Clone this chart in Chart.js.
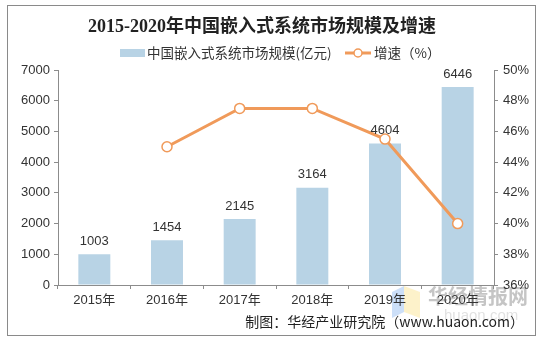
<!DOCTYPE html>
<html>
<head>
<meta charset="utf-8">
<script src="https://cdn.jsdelivr.net/npm/chart.js@4"></script>
<style>
  html, body { margin: 0; padding: 0; background: #fff; }
  #wrap { width: 544px; height: 343px; position: relative; }
</style>
</head>
<body>
<div id="wrap"><canvas id="chart" width="544" height="343"></canvas></div>
<script>
// ---- Data ----
const years = ["2015年", "2016年", "2017年", "2018年", "2019年", "2020年"];
const marketSize = [1003, 1454, 2145, 3164, 4604, 6446];
const growthRate = [null, 45.0, 47.5, 47.5, 45.5, 40.0];

const TITLE = "2015-2020年中国嵌入式系统市场规模及增速";
const LEGEND_BAR = "中国嵌入式系统市场规模(亿元)";
const LEGEND_LINE = "增速（%）";
const SOURCE = "制图：华经产业研究院（www.huaon.com）";

// ---- Styles ----
const BAR_COLOR = "#B8D3E5";
const LINE_COLOR = "#F09A5A";
const AXIS_COLOR = "#8c8c8c";
const TEXT_COLOR = "#333";
const FONT = "'Liberation Sans', Arial, 'Noto Sans CJK SC', sans-serif";
const CJK = "'Noto Sans CJK SC', 'Liberation Sans', sans-serif";

// frame, title, legend, labels, source, watermark
const decor = {
	id: "decor",
	beforeDraw(chart) {
		const ctx = chart.ctx;
		ctx.save();
		ctx.fillStyle = "#fff";
		ctx.fillRect(0, 0, chart.width, chart.height);
		ctx.strokeStyle = "#8a8a8a";
		ctx.lineWidth = 1;
		ctx.strokeRect(7.5, 5.5, 528, 330);

		// watermark
		ctx.globalAlpha = 0.45;
		ctx.fillStyle = "#8fb8f0";
		ctx.beginPath();
		ctx.moveTo(392, 292); ctx.lineTo(404, 286); ctx.lineTo(404, 312); ctx.lineTo(392, 318);
		ctx.closePath(); ctx.fill();
		ctx.fillStyle = "#fbe38a";
		ctx.beginPath();
		ctx.moveTo(404, 286); ctx.lineTo(420, 292); ctx.lineTo(420, 318); ctx.lineTo(404, 312);
		ctx.closePath(); ctx.fill();
		ctx.globalAlpha = 1;
		ctx.fillStyle = "rgba(150,150,150,0.55)";
		ctx.font = "bold 20px " + CJK;
		ctx.textAlign = "left";
		ctx.textBaseline = "middle";
		ctx.fillText("华经情报网", 428, 296);
		ctx.fillStyle = "rgba(180,180,180,0.4)";
		ctx.font = "15px " + FONT;
		ctx.fillText("huaon.com", 444, 316);
		ctx.restore();
	},
	afterDraw(chart) {
		const ctx = chart.ctx;
		ctx.save();
		ctx.textBaseline = "middle";

		// title
		ctx.fillStyle = "#222";
		ctx.textAlign = "center";
		ctx.font = "bold 18px 'Liberation Serif', 'Noto Sans CJK SC', serif";
		ctx.fillText(TITLE, 262, 27);

		// legend
		ctx.font = "13.5px " + CJK;
		ctx.textAlign = "left";
		ctx.fillStyle = BAR_COLOR;
		ctx.fillRect(120, 49, 25, 8);
		ctx.fillStyle = TEXT_COLOR;
		ctx.fillText(LEGEND_BAR, 147, 53);
		ctx.strokeStyle = LINE_COLOR;
		ctx.lineWidth = 3;
		ctx.beginPath();
		ctx.moveTo(345, 53); ctx.lineTo(371, 53); ctx.stroke();
		ctx.fillStyle = "#fff";
		ctx.lineWidth = 1.5;
		ctx.beginPath();
		ctx.arc(358, 53, 4, 0, Math.PI * 2);
		ctx.fill(); ctx.stroke();
		ctx.fillStyle = TEXT_COLOR;
		ctx.fillText(LEGEND_LINE, 374, 53);

		// bar value labels (bar dataset is index 1)
		const meta = chart.getDatasetMeta(1);
		ctx.font = "13px " + FONT;
		ctx.textAlign = "center";
		ctx.fillStyle = TEXT_COLOR;
		meta.data.forEach((bar, i) => {
			ctx.fillText(String(marketSize[i]), bar.x, bar.y - 13);
		});

		// source
		ctx.font = "14px " + CJK;
		ctx.textAlign = "right";
		ctx.fillStyle = "#222";
		ctx.fillText(SOURCE, 524, 322);
		ctx.restore();
	},
};

new Chart(document.getElementById("chart"), {
	data: {
		labels: years,
		datasets: [
			{
				type: "line",
				label: LEGEND_LINE,
				data: growthRate,
				yAxisID: "y1",
				borderColor: LINE_COLOR,
				borderWidth: 3,
				pointRadius: 5,
				pointBorderWidth: 1.5,
				pointBackgroundColor: "#fff",
				pointBorderColor: LINE_COLOR,
				tension: 0,
				spanGaps: false,
				order: 0,
			},
			{
				type: "bar",
				label: LEGEND_BAR,
				data: marketSize,
				yAxisID: "y",
				backgroundColor: BAR_COLOR,
				categoryPercentage: 1,
				barPercentage: 0.44,
				order: 1,
			},
		],
	},
	options: {
		responsive: false,
		animation: false,
		layout: { padding: { top: 70, left: 0, right: 0, bottom: 0 } },
		plugins: {
			legend: { display: false },
			title: { display: false },
			tooltip: { enabled: false },
		},
		scales: {
			x: {
				offset: true,
				grid: { offset: true, drawOnChartArea: false, tickLength: 4, color: AXIS_COLOR },
				border: { color: AXIS_COLOR },
				ticks: { color: TEXT_COLOR, font: { size: 13, family: FONT }, padding: 4, maxRotation: 0 },
				afterFit: (s) => { s.height = 58; },
			},
			y: {
				position: "left",
				min: 0,
				max: 7000,
				ticks: {
					stepSize: 1000,
					color: TEXT_COLOR,
					font: { size: 13, family: FONT },
					padding: 4,
					callback: (v) => String(v),
				},
				grid: { drawOnChartArea: false, tickLength: 4, color: AXIS_COLOR },
				border: { color: AXIS_COLOR },
				afterFit: (s) => { s.width = 58; },
			},
			y1: {
				position: "right",
				min: 36,
				max: 50,
				ticks: {
					stepSize: 2,
					color: TEXT_COLOR,
					font: { size: 13, family: FONT },
					padding: 5,
					callback: (v) => v + "%",
				},
				grid: { drawOnChartArea: false, tickLength: 4, color: AXIS_COLOR },
				border: { color: AXIS_COLOR },
				afterFit: (s) => { s.width = 50; },
			},
		},
	},
	plugins: [decor],
});
</script>
</body>
</html>
